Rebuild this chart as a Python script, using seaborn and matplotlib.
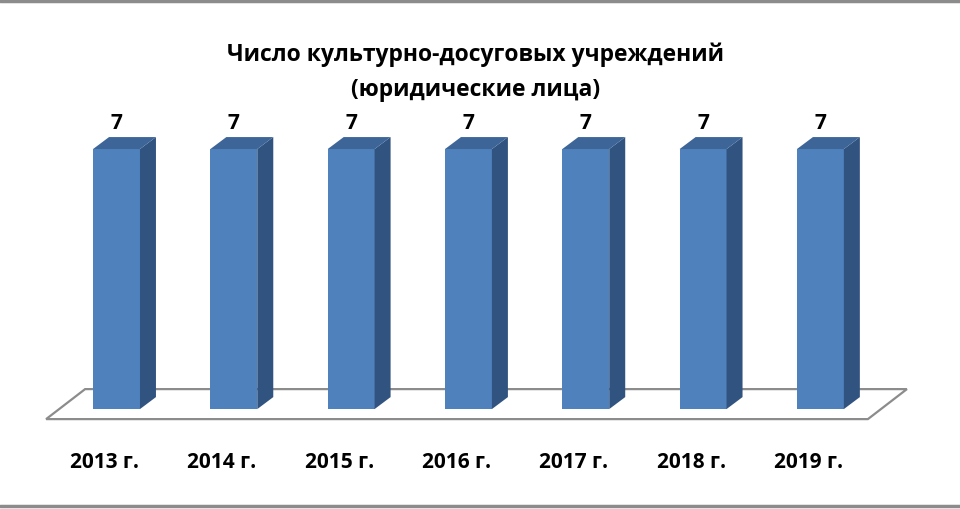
import matplotlib
matplotlib.use("Agg")
import matplotlib.pyplot as plt
import matplotlib.transforms as mtransforms
from matplotlib.patches import Polygon
import seaborn as sns
import pandas as pd

years = ["2013 г.", "2014 г.", "2015 г.", "2016 г.", "2017 г.", "2018 г.", "2019 г."]
values = [7, 7, 7, 7, 7, 7, 7]
title_line1 = "Число культурно-досуговых учреждений"
title_line2 = "(юридические лица)"

sns.set_theme(style="white")
plt.rcParams['font.family'] = ['Open Sans', 'DejaVu Sans']
plt.rcParams['text.color'] = 'black'

FRONT = "#4F81BD"
SIDE = "#31537F"
TOP = "#3D6598"

fig = plt.figure(figsize=(9.6, 5.1), dpi=100)
ax = fig.add_axes([0, 0, 1, 1])
df = pd.DataFrame({"year": years, "value": values})
sns.barplot(data=df, x="year", y="value", color=FRONT, saturation=1, width=0.4, ax=ax, zorder=3)
ax.set_xlim(-0.993, 7.19)
ax.set_ylim(-2.69, 11.04)
ax.axis("off")
fig.canvas.draw()

ident = mtransforms.IdentityTransform()
tr = ax.transData
dpi_tr = fig.dpi_scale_trans

def inch_off(dx, dy):
    return dpi_tr.transform((dx, dy)) - dpi_tr.transform((0, 0))

# floor (decoration)
y0 = -0.27
p0 = tr.transform((-0.6, y0)); p1 = tr.transform((6.405, y0))
off = inch_off(0.39, 0.30)
floor = Polygon([p0, p1, p1 + off, p0 + off], closed=True, transform=ident,
                facecolor="white", edgecolor="#8c8c8c", linewidth=1.6, zorder=1)
ax.add_patch(floor)

offd = inch_off(0.16, 0.12)
for bar, v in zip(list(ax.patches), values):
    bar.set_edgecolor("none")
    x = bar.get_x(); w = bar.get_width(); h = bar.get_height()
    br = tr.transform((x + w, 0))
    tl = tr.transform((x, h)); trp = tr.transform((x + w, h))
    side = Polygon([br, trp, trp + offd, br + offd], closed=True, transform=ident,
                   facecolor=SIDE, edgecolor="none", zorder=4)
    top = Polygon([tl, trp, trp + offd, tl + offd], closed=True, transform=ident,
                  facecolor=TOP, edgecolor="none", zorder=4)
    ax.add_patch(side)
    ax.add_patch(top)
    ax.annotate(str(v), (x + w / 2, h), xytext=(0, 19), textcoords="offset points",
                ha="center", va="center", fontsize=15, fontweight="bold", color="black")

for i, lab in enumerate(years):
    ax.text(i - 0.1, -1.4, lab, ha="center", va="center", fontsize=15,
            fontweight="bold", color="black")

fig.text(0.495, 1 - 55 / 510, title_line1, ha="center", va="center",
         fontsize=16.5, fontweight="bold", color="black")
fig.text(0.495, 1 - 90 / 510, title_line2, ha="center", va="center",
         fontsize=16.5, fontweight="bold", color="black")

# outer border lines (top and bottom)
fig.add_artist(plt.Line2D([0, 1], [1 - 2 / 510, 1 - 2 / 510], color="#8c8c8c", lw=2.5, transform=fig.transFigure))
fig.add_artist(plt.Line2D([0, 1], [3 / 510, 3 / 510], color="#8c8c8c", lw=2.5, transform=fig.transFigure))

fig.savefig("out.png", dpi=100)
